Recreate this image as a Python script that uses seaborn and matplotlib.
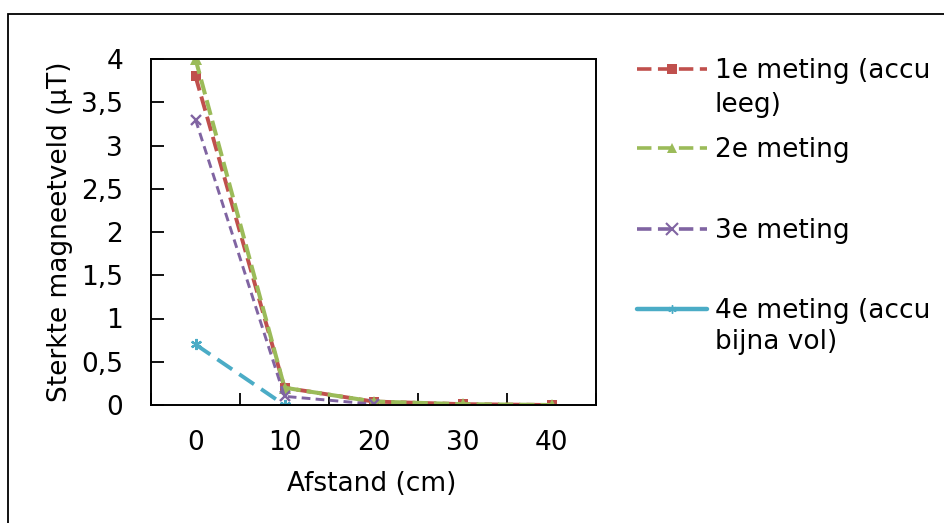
import numpy as np
import pandas as pd
import matplotlib
matplotlib.use("Agg")
import matplotlib.pyplot as plt
from matplotlib.lines import Line2D
from matplotlib.patches import Rectangle
from matplotlib.ticker import FuncFormatter
import seaborn as sns

# Measured field strength (µT) at each distance (cm)
afstand = ["0", "10", "20", "30", "40"]
meting_1 = [3.8, 0.2, 0.04, 0.01, 0.0]
meting_2 = [4.0, 0.2, 0.04, 0.01, 0.0]
meting_3 = [3.3, 0.1, 0.01, np.nan, np.nan]
meting_4 = [0.7, 0.0, np.nan, np.nan, np.nan]

labels = ["1e meting (accu\nleeg)", "2e meting", "3e meting", "4e meting (accu\nbijna vol)"]
colors = ["#C0504D", "#9BBB59", "#8064A2", "#4BACC6"]
y_ticks = [0, 0.5, 1, 1.5, 2, 2.5, 3, 3.5, 4]

sns.set_theme(style="white")
plt.rcParams["font.family"] = ["DejaVu Sans"]
FS = 19

pos = np.arange(len(afstand))
frames = []
for lab, vals in zip(labels, [meting_1, meting_2, meting_3, meting_4]):
    frames.append(pd.DataFrame({"pos": pos, "waarde": vals, "meting": lab}))
df = pd.concat(frames, ignore_index=True).dropna()

fig = plt.figure(figsize=(9.44, 5.23), dpi=100)
ax = fig.add_axes([151 / 944, 1 - 405 / 523, (596 - 151) / 944, (405 - 59) / 523])

styles = {
    labels[0]: dict(marker="s", ms=6.5, lw=2.8, ls=(0, (3.8, 1.6)), mew=0),
    labels[1]: dict(marker="^", ms=8, lw=2.9, ls=(0, (3.8, 1.5)), mew=0),
    labels[2]: dict(marker="x", ms=7.5, lw=2.1, ls=(0, (3.0, 1.8)), mew=1.7),
    labels[3]: dict(marker=(6, 2, 0), ms=8, lw=2.8, ls=(0, (4.6, 2.2)), mew=1.6),
}

for lab, col in zip(labels, colors):
    st = styles[lab]
    sub = df[df["meting"] == lab]
    sns.lineplot(data=sub, x="pos", y="waarde", ax=ax, color=col, legend=False,
                 marker=st["marker"], markersize=st["ms"], linewidth=st["lw"],
                 linestyle=st["ls"], markeredgewidth=st["mew"],
                 markeredgecolor=col, markerfacecolor=col, sort=False)

ax.set_xlim(-0.5, len(afstand) - 0.5)
ax.set_ylim(0, 4)
ax.set_xticks(pos)
ax.set_xticklabels(afstand)
ax.set_xticks(np.arange(-0.5, len(afstand), 1.0), minor=True)
ax.set_yticks(y_ticks)
ax.yaxis.set_major_formatter(FuncFormatter(lambda v, p: f"{v:g}".replace(".", ",")))

ax.tick_params(axis="x", which="major", length=0, pad=18, labelsize=FS, colors="black")
ax.tick_params(axis="x", which="minor", direction="in", length=9, width=1.3, color="black", bottom=True)
ax.tick_params(axis="y", which="major", direction="in", length=9, width=1.3, pad=20,
               labelsize=FS, colors="black", left=True)

for sp in ax.spines.values():
    sp.set_visible(True)
    sp.set_color("black")
    sp.set_linewidth(1.4)

ax.set_xlabel("Afstand (cm)", fontsize=FS, color="black")
ax.xaxis.label.set_verticalalignment("center")
ax.xaxis.set_label_coords(0.497, -0.228)
ax.set_ylabel("Sterkte magneetveld (µT)", fontsize=FS, color="black")
ax.yaxis.label.set_verticalalignment("center")
ax.yaxis.set_label_coords(-0.205, 0.5)

# Legend rows placed individually (handles are drawn as in the chart legend)
handle_styles = [
    dict(color=colors[0], lw=2.6, ls=(0, (4.0, 1.8)), marker="s", ms=6.5, mew=0),
    dict(color=colors[1], lw=2.6, ls=(0, (4.0, 1.8)), marker="^", ms=7, mew=0),
    dict(color=colors[2], lw=2.6, ls=(0, (4.0, 1.8)), marker="x", ms=9, mew=1.5),
    dict(color=colors[3], lw=3.2, ls="-", marker=(6, 2, 0), ms=6, mew=1.0),
]
rows = [
    (handle_styles[0], "1e meting (accu", 71),
    (None, "leeg)", 105),
    (handle_styles[1], "2e meting", 150),
    (handle_styles[2], "3e meting", 231),
    (handle_styles[3], "4e meting (accu", 311),
    (None, "bijna vol)", 342),
]
for hs, txt, y in rows:
    if hs is None:
        h = Line2D([], [], color="none")
    else:
        h = Line2D([], [], color=hs["color"], linewidth=hs["lw"], linestyle=hs["ls"],
                   marker=hs["marker"], markersize=hs["ms"], markeredgewidth=hs["mew"],
                   markerfacecolor=hs["color"], markeredgecolor=hs["color"])
    fig.legend(handles=[h], labels=[txt], loc="center left",
               bbox_to_anchor=(637 / 944, 1 - y / 523), frameon=False, fontsize=FS,
               handlelength=2.65, handletextpad=0.3, borderpad=0, borderaxespad=0,
               labelcolor="black")

# Chart area border
fig.patches.append(Rectangle((8 / 944, -0.2), 1.5, 1 - 14 / 523 + 0.2,
                             transform=fig.transFigure, fill=False,
                             edgecolor="black", linewidth=1.3))

fig.savefig("out.png", dpi=100, facecolor="white")
